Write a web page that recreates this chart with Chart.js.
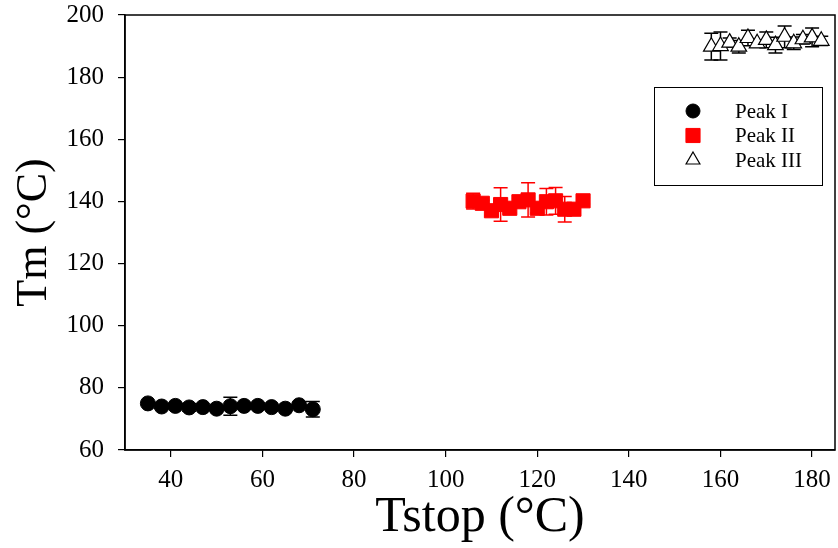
<!DOCTYPE html>
<html>
<head>
<meta charset="utf-8">
<script src="https://cdn.jsdelivr.net/npm/chart.js@4"></script>
<style>
  html, body { margin: 0; padding: 0; background: #fff; }
  #wrap { width: 838px; height: 548px; }
</style>
</head>
<body>
<div id="wrap"><canvas id="myChart" width="838" height="548"></canvas></div>
<script>
// Peak I
const peak1X = [35, 38, 41, 44, 47, 50, 53, 56, 59, 62, 65, 68, 71];
const peak1Y = [75.0, 74.0, 74.2, 73.7, 73.8, 73.3, 74.1, 74.2, 74.2, 73.8, 73.3, 74.4, 73.1];
const peak1Err = [0.5, 0.5, 0.8, 1.2, 0.5, 0.6, 2.9, 0.8, 0.5, 0.5, 0.5, 1.0, 2.5];

// Peak II
const peak2X = [106, 108, 110, 112, 114, 116, 118, 120, 122, 124, 126, 128, 130];
const peak2Y = [140.1, 139.4, 137.0, 139.0, 137.8, 139.9, 140.5, 137.8, 139.9, 140.2, 137.5, 137.5, 140.2];
const peak2Err = [2.5, 1.0, 1.5, 5.4, 1.5, 1.0, 5.5, 1.5, 4.3, 4.3, 4.1, 1.0, 1.0];

// Peak III
const peak3X = [158, 160, 162, 164, 166, 168, 170, 172, 174, 176, 178, 180, 182];
const peak3Y = [189.8, 190.0, 191.1, 189.8, 192.6, 190.9, 192.0, 190.3, 193.0, 190.9, 192.2, 192.8, 191.7];
const peak3Err = [4.3, 4.5, 1.5, 2.0, 2.5, 1.0, 2.5, 2.5, 3.5, 2.0, 1.5, 3.0, 1.5];

const xTicks = [40, 60, 80, 100, 120, 140, 160, 180];
const yTicks = [60, 80, 100, 120, 140, 160, 180, 200];

const serif = "'Liberation Serif', 'Times New Roman', serif";

function toPoints(xs, ys) {
    return xs.map((x, i) => ({ x: x, y: ys[i] }));
}

const errors = [peak1Err, peak2Err, peak3Err];

// error bars drawn under the markers
const errorBars = {
    id: "errorBars",
    beforeDatasetsDraw(chart) {
        const ctx = chart.ctx;
        const xs = chart.scales.x;
        const ys = chart.scales.y;
        chart.data.datasets.forEach((ds, di) => {
            const err = errors[di];
            ctx.save();
            ctx.strokeStyle = ds.errorColor;
            ctx.lineWidth = 1.5;
            ds.data.forEach((p, i) => {
                const px = xs.getPixelForValue(p.x);
                const top = ys.getPixelForValue(p.y + err[i]);
                const bot = ys.getPixelForValue(p.y - err[i]);
                ctx.beginPath();
                ctx.moveTo(px, top);
                ctx.lineTo(px, bot);
                ctx.moveTo(px - 7, top);
                ctx.lineTo(px + 7, top);
                ctx.moveTo(px - 7, bot);
                ctx.lineTo(px + 7, bot);
                ctx.stroke();
            });
            ctx.restore();
        });
    },
};

// box round the plot and the boxed legend
const frame = {
    id: "frame",
    afterDraw(chart) {
        const ctx = chart.ctx;
        const a = chart.chartArea;
        ctx.save();
        ctx.strokeStyle = "#000";
        ctx.lineWidth = 1.5;
        ctx.strokeRect(a.left, a.top, a.right - a.left, a.bottom - a.top);

        const lx = 654, ly = 87, lw = 168, lh = 98;
        ctx.fillStyle = "#fff";
        ctx.fillRect(lx, ly, lw, lh);
        ctx.lineWidth = 1;
        ctx.strokeRect(lx + 0.5, ly + 0.5, lw, lh);

        ctx.font = "21px " + serif;
        ctx.textBaseline = "middle";
        chart.data.datasets.forEach((ds, i) => {
            const y = ly + 24 + i * 24.5;
            ctx.fillStyle = ds.backgroundColor;
            ctx.strokeStyle = ds.borderColor;
            ctx.lineWidth = ds.borderWidth;
            Chart.helpers.drawPoint(ctx, {
                pointStyle: ds.pointStyle,
                radius: ds.legendRadius,
                borderWidth: ds.borderWidth,
            }, 693, y);
            ctx.fillStyle = "#000";
            ctx.fillText(ds.label, 735, y + 1);
        });
        ctx.restore();
    },
};

new Chart("myChart", {
    type: "scatter",
    data: {
        datasets: [
            {
                label: "Peak I",
                data: toPoints(peak1X, peak1Y),
                pointStyle: "circle",
                pointRadius: 7.5,
                legendRadius: 7,
                backgroundColor: "#000",
                borderColor: "#000",
                borderWidth: 1,
                errorColor: "#000",
            },
            {
                label: "Peak II",
                data: toPoints(peak2X, peak2Y),
                pointStyle: "rect",
                pointRadius: 10,
                legendRadius: 10,
                backgroundColor: "#ff0000",
                borderColor: "#ff0000",
                borderWidth: 1,
                errorColor: "#ff0000",
            },
            {
                label: "Peak III",
                data: toPoints(peak3X, peak3Y),
                pointStyle: "triangle",
                pointRadius: 9,
                legendRadius: 8,
                backgroundColor: "#fff",
                borderColor: "#000",
                borderWidth: 1.2,
                errorColor: "#000",
            },
        ],
    },
    options: {
        responsive: false,
        animation: false,
        layout: { autoPadding: false, padding: { left: 0, right: 3, top: 15, bottom: 0 } },
        plugins: {
            legend: { display: false },
            tooltip: { enabled: false },
        },
        scales: {
            x: {
                type: "linear",
                min: 30,
                max: 185,
                afterBuildTicks: (s) => { s.ticks = xTicks.map((v) => ({ value: v })); },
                afterFit: (s) => { s.height = 98; s.paddingLeft = 0; s.paddingRight = 0; },
                grid: { drawOnChartArea: false, drawTicks: true, tickLength: 7, color: "#000", lineWidth: 1.2 },
                border: { display: true, color: "#000", width: 1.5 },
                ticks: { color: "#000", font: { family: serif, size: 25 }, padding: 8, maxRotation: 0 },
                title: {
                    display: true,
                    text: "Tstop (°C)",
                    color: "#000",
                    font: { family: serif, size: 50 },
                    padding: { top: 0, bottom: 0 },
                },
            },
            y: {
                type: "linear",
                min: 60,
                max: 200,
                afterBuildTicks: (s) => { s.ticks = yTicks.map((v) => ({ value: v })); },
                afterFit: (s) => { s.width = 125; s.paddingTop = 0; s.paddingBottom = 0; },
                grid: { drawOnChartArea: false, drawTicks: true, tickLength: 7, color: "#000", lineWidth: 1.2 },
                border: { display: true, color: "#000", width: 1.5 },
                ticks: { color: "#000", font: { family: serif, size: 25 }, padding: 14 },
                title: {
                    display: true,
                    text: "Tm (°C)",
                    color: "#000",
                    font: { family: serif, size: 44 },
                    padding: { top: 8, bottom: 0 },
                },
            },
        },
    },
    plugins: [errorBars, frame],
});
</script>
</body>
</html>
